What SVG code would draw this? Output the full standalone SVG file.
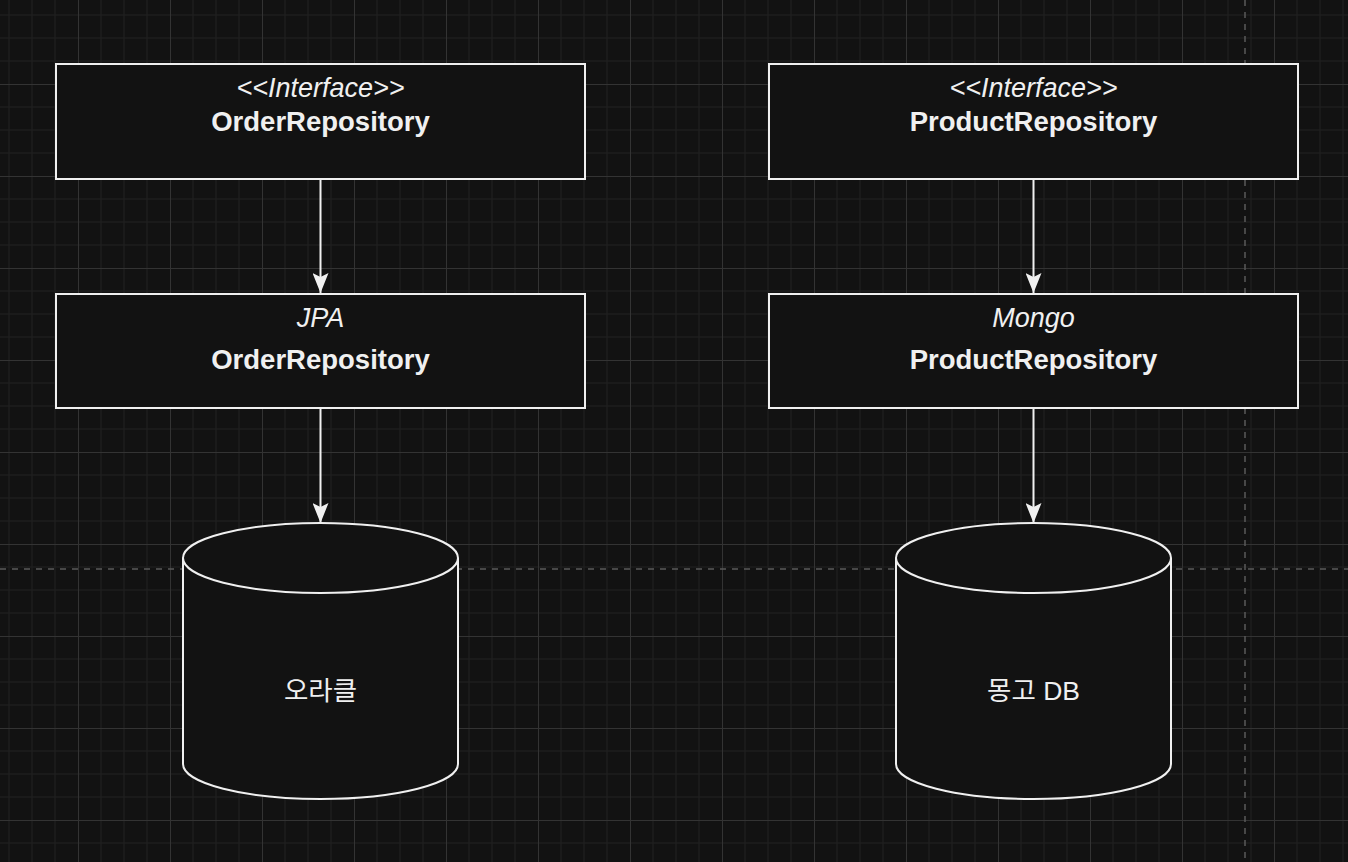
<svg xmlns="http://www.w3.org/2000/svg" width="1348" height="862" viewBox="0 0 1348 862">
<defs>
<pattern id="grid" patternUnits="userSpaceOnUse" x="78" y="84" width="92" height="92">
<path d="M23 0V92M46 0V92M69 0V92M0 23H92M0 46H92M0 69H92" stroke="#1d1d1d" stroke-width="1.5" fill="none"/>
<path d="M0.5 0V92M0 0.5H92" stroke="#333" stroke-width="1" fill="none"/>
</pattern>
<marker id="arr" viewBox="0 0 20 16" refX="20" refY="8" markerWidth="20" markerHeight="16" markerUnits="userSpaceOnUse" orient="auto">
<path d="M0 0L20 8L0 16L4 8Z" fill="#f0f0f0"/>
</marker>
<style>
.box{fill:#121212;stroke:#f0f0f0;stroke-width:2}
.cyl{fill:#121212;stroke:#f0f0f0;stroke-width:2}
.t{font-family:"Liberation Sans",Arial,sans-serif;fill:#f0f0f0;text-anchor:middle}
.it{font-style:italic;font-size:27px}
.b{font-weight:bold;font-size:27.5px}
.k{font-family:"Liberation Sans","Noto Sans CJK KR",sans-serif;font-size:26.5px}
.edge{stroke:#f0f0f0;stroke-width:2;fill:none;marker-end:url(#arr)}
</style>
</defs>
<rect width="1348" height="862" fill="#121212"/>
<rect width="1348" height="862" fill="url(#grid)"/>
<path d="M1245 0V862M0 569H1348" stroke="#5a5a5a" stroke-width="1.5" stroke-dasharray="6 6" fill="none"/>
<g id="connectors">
<path class="edge" d="M320.5 179V293"/>
<path class="edge" d="M320.5 408V523"/>
<path class="edge" d="M1033.5 179V293"/>
<path class="edge" d="M1033.5 408V523"/>
</g>
<g id="order-repo-interface">
<rect class="box" x="56" y="64" width="529" height="115"/>
<text class="t it" x="320.5" y="97">&lt;&lt;Interface&gt;&gt;</text>
<text class="t b" x="320.5" y="131">OrderRepository</text>
</g>
<g id="product-repo-interface">
<rect class="box" x="769" y="64" width="529" height="115"/>
<text class="t it" x="1033.5" y="97">&lt;&lt;Interface&gt;&gt;</text>
<text class="t b" x="1033.5" y="131">ProductRepository</text>
</g>
<g id="jpa-order-repo">
<rect class="box" x="56" y="294" width="529" height="114"/>
<text class="t it" x="320.5" y="327">JPA</text>
<text class="t b" x="320.5" y="369">OrderRepository</text>
</g>
<g id="mongo-product-repo">
<rect class="box" x="769" y="294" width="529" height="114"/>
<text class="t it" x="1033.5" y="327">Mongo</text>
<text class="t b" x="1033.5" y="369">ProductRepository</text>
</g>
<g id="oracle-db">
<path class="cyl" d="M183 558A137.5 35 0 0 1 458 558V764A137.5 35 0 0 1 183 764Z"/>
<path class="cyl" d="M183 558A137.5 35 0 0 0 458 558" fill="none"/>
<text class="t k" x="320.5" y="700">오라클</text>
</g>
<g id="mongo-db">
<path class="cyl" d="M896 558A137.5 35 0 0 1 1171 558V764A137.5 35 0 0 1 896 764Z"/>
<path class="cyl" d="M896 558A137.5 35 0 0 0 1171 558" fill="none"/>
<text class="t k" x="1033.5" y="700">몽고 DB</text>
</g>
</svg>
